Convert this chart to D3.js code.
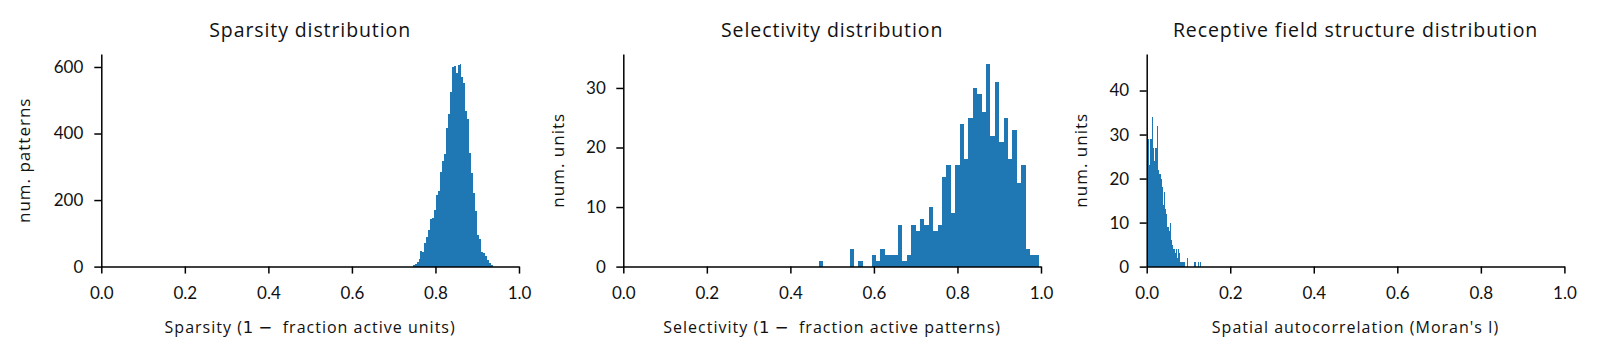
<!DOCTYPE html>
<html>
<head>
<meta charset="utf-8">
<script src="https://cdn.jsdelivr.net/npm/d3@7"></script>
<style>
  html, body { margin: 0; padding: 0; background: #fff; }
  svg { display: block; }
  text { font-family: Lato, "Open Sans", sans-serif; fill: #111; }
  .lab { font-family: "Open Sans", Lato, sans-serif; }
</style>
</head>
<body>
<svg id="chart" width="1597" height="357"></svg>
<script>
// ---------------- DATA ----------------
const titles = ["Sparsity distribution", "Selectivity distribution", "Receptive field structure distribution"];
const yLabels = ["num. patterns", "num. units", "num. units"];
const xTicks = [0.0, 0.2, 0.4, 0.6, 0.8, 1.0];
const yTicksSparsity = [0, 200, 400, 600];
const yTicksSelectivity = [0, 10, 20, 30];
const yTicksRF = [0, 10, 20, 30, 40];

// Histogram 1: sparsity per pattern (bin range + counts)
const sparsityRange = [0.7455, 0.937];
const sparsityCounts = [4, 8, 14, 23, 47, 44, 71, 88, 110, 143, 146, 169, 215, 227, 284, 317, 338, 416, 458, 524,
  600, 602, 582, 605, 608, 569, 552, 467, 443, 341, 281, 221, 168, 95, 83, 44, 41, 31, 20, 12, 5];
const sparsityYMax = 639;

// Histogram 2: selectivity per unit
const selectivityRange = [0.468, 0.995];
const selectivityCounts = [1, 0, 0, 0, 0, 0, 0, 3, 0, 1, 0, 0, 2, 1, 3, 2, 2, 2, 7, 1,
  2, 7, 6, 8, 7, 10, 6, 7, 15, 17, 9, 17, 24, 18, 25, 30, 29, 26, 34, 22,
  31, 21, 25, 18, 23, 14, 17, 3, 2, 2];
const selectivityYMax = 35.7;

// Histogram 3: Moran's I per unit
const rfRange = [0.0, 0.1305];
const rfCounts = [29, 29, 23, 29, 29, 34, 27, 24, 27, 32, 22, 21, 21, 20, 18, 14, 17, 13, 12, 9,
  8, 10, 6, 5, 4, 4, 3, 4, 2, 4, 3, 1, 1, 1, 1, 0, 0, 2, 0, 0,
  0, 0, 0, 1, 1, 0, 0, 1, 0, 1];
const rfYMax = 48.3;

// x-axis labels: [before math, math, after math]
const xLabels = [
  ["Sparsity (", "1 \u2212", "  fraction active units)"],
  ["Selectivity (", "1 \u2212", "  fraction active patterns)"],
  ["Spatial autocorrelation (Moran's I)", "", ""]
];

// ---------------- LAYOUT ----------------
const panels = [
  { range: sparsityRange, counts: sparsityCounts, yMax: sparsityYMax, yTicks: yTicksSparsity, left: 101.3, ylabOff: 71, pad: 11 },
  { range: selectivityRange, counts: selectivityCounts, yMax: selectivityYMax, yTicks: yTicksSelectivity, left: 623.3, ylabOff: 59, pad: 10.5 },
  { range: rfRange, counts: rfCounts, yMax: rfYMax, yTicks: yTicksRF, left: 1146.7, ylabOff: 60, pad: 10.5 }
];
const plotW = 417.7, plotTop = 54, plotBottom = 266.6;
const barColor = "#1f77b4";

const svg = d3.select("#chart");

panels.forEach((p, i) => {
  const x = d3.scaleLinear().domain([0, 1]).range([p.left, p.left + plotW]);
  const y = d3.scaleLinear().domain([0, p.yMax]).range([plotBottom, plotTop]);
  const g = svg.append("g");

  const w = (p.range[1] - p.range[0]) / p.counts.length;
  const bins = p.counts.map((c, k) => ({ x0: p.range[0] + k * w, x1: p.range[0] + (k + 1) * w, c }))
    .filter(b => b.c > 0);

  g.append("g").selectAll("rect").data(bins).join("rect")
    .attr("x", d => x(d.x0))
    .attr("width", d => Math.max(0.9, x(d.x1) - x(d.x0)))
    .attr("y", d => y(d.c))
    .attr("height", d => y(0) - y(d.c))
    .attr("fill", barColor)
    .attr("shape-rendering", "crispEdges");

  // x axis
  const gx = g.append("g").attr("transform", `translate(0,${plotBottom})`)
    .call(d3.axisBottom(x).tickValues(xTicks).tickFormat(d3.format(".1f")).tickSize(7).tickSizeOuter(0));
  gx.selectAll("text").attr("dy", null).attr("y", 32.4).style("font-size", "17px");
  // y axis
  const gy = g.append("g").attr("transform", `translate(${p.left},0)`)
    .call(d3.axisLeft(y).tickValues(p.yTicks).tickFormat(d3.format("d")).tickSize(7).tickSizeOuter(0).tickPadding(p.pad));
  gy.selectAll("text").style("font-size", "17px");
  [gx, gy].forEach(a => {
    a.attr("font-family", null).attr("font-size", null);
    a.select(".domain").attr("stroke", "#000").attr("stroke-width", 1.5);
    a.selectAll(".tick line").attr("stroke", "#000").attr("stroke-width", 1.5);
    a.selectAll("text").style("fill", "#111");
  });

  // title
  g.append("text").attr("class", "lab").attr("x", p.left + plotW / 2).attr("y", 37)
    .attr("text-anchor", "middle").style("font-size", "19.5px").style("letter-spacing", "0.9px").text(titles[i]);

  // x label
  const xl = g.append("text").attr("class", "lab").attr("x", p.left + plotW / 2).attr("y", 333)
    .attr("text-anchor", "middle").style("font-size", "16px").style("letter-spacing", "1px").style("white-space", "pre");
  xl.append("tspan").text(xLabels[i][0]);
  if (xLabels[i][1]) {
    xl.append("tspan").style("font-family", "'DejaVu Sans'").style("font-size", "16.5px").style("letter-spacing", "0px").text(xLabels[i][1]);
    xl.append("tspan").text(xLabels[i][2]);
  }

  // y label
  g.append("text").attr("class", "lab")
    .attr("transform", `translate(${p.left - p.ylabOff},${(plotTop + plotBottom) / 2}) rotate(-90)`)
    .attr("text-anchor", "middle").style("font-size", "17px").style("letter-spacing", "1px").text(yLabels[i]);
});
</script>
</body>
</html>
